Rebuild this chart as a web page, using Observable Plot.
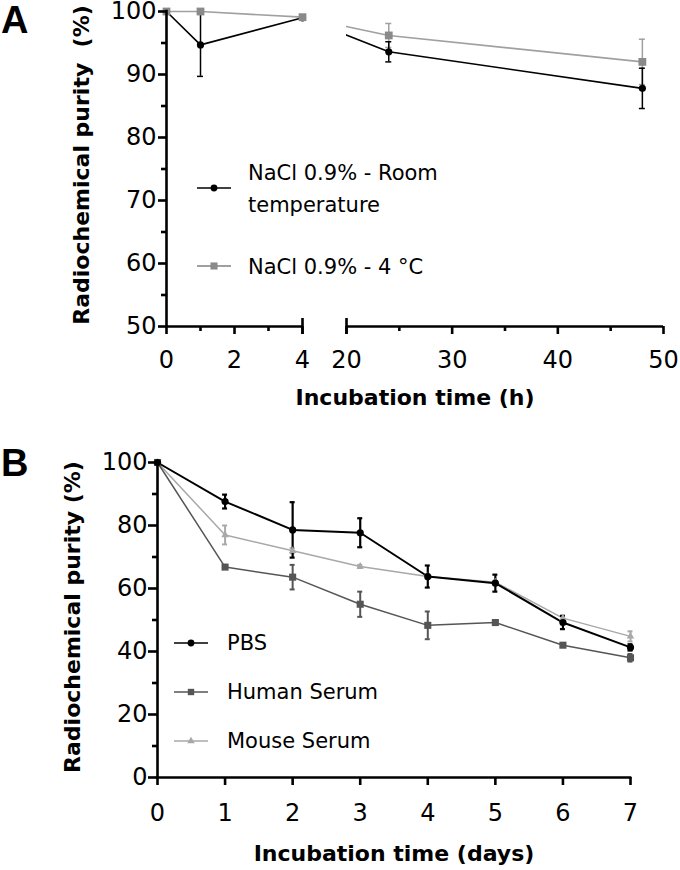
<!DOCTYPE html>
<html>
<head>
<meta charset="utf-8">
<script src="https://cdn.jsdelivr.net/npm/d3@7"></script>
<script src="https://cdn.jsdelivr.net/npm/@observablehq/plot@0.6"></script>
<style>
  body { margin: 0; background: #fff; }
  #wrap { position: relative; width: 680px; height: 870px; font-family: "DejaVu Sans", sans-serif; color: #000; overflow: hidden; }
  .panel { position: absolute; left: 0; }
  .plabel { position: absolute; left: 1px; font-family: "Liberation Sans", Arial, sans-serif; font-weight: bold; font-size: 38px; line-height: 38px; }
  .leg { position: absolute; font-size: 21px; line-height: 32px; white-space: nowrap; }
  .swatch { position: absolute; }
</style>
</head>
<body>
<div id="wrap"></div>
<script>
// ---------- Panel A data ----------
const timeA = [0, 1, 4, 24, 48];
const roomMean = [100, 94.7, 99.0, 93.6, 87.8];
const roomSd = [0, 5.0, 0.3, 1.6, 3.2];
const coldMean = [100, 100, 99.1, 96.2, 92.0];
const coldSd = [0, 0, 0.3, 1.9, 3.6];
const xDomainA = [0, 4, 20, 50];          // broken axis: 0–4 h, gap, 20–50 h
const xBreakA = [4, 20];
const xSegmentsA = [[0, 4], [20, 50]];
const xTicksA = [0, 2, 4, 20, 30, 40, 50];
const xMinorA = [1, 3, 25, 35, 45];
const yDomainA = [50, 100];
const yTicksA = [50, 60, 70, 80, 90, 100];
const yMinorA = [55, 65, 75, 85, 95];
const seriesA = ["NaCl 0.9% - Room\ntemperature", "NaCl 0.9% - 4 °C"];

// relative widths of the broken-axis pieces (left segment, gap, right segment)
const brokenAxisShares = [136, 44, 317];

// ---------- Panel B data ----------
const days = [0, 1, 2, 3, 4, 5, 6, 7];
const pbsMean = [100, 87.6, 78.6, 77.7, 63.8, 61.7, 49.2, 41.3];
const pbsSd = [0, 2.2, 8.8, 4.6, 3.5, 2.7, 2.1, 1.0];
const humanMean = [100, 66.8, 63.6, 55.0, 48.3, 49.2, 42.0, 38.0];
const humanSd = [0, 0.6, 3.9, 4.0, 4.4, 0.8, 0.5, 1.2];
const mouseMean = [100, 77.0, 72.0, 67.0, 63.8, 62.0, 50.6, 44.8];
const mouseSd = [0, 3.0, 0.8, 0.5, 0.8, 0.5, 0.8, 1.6];
const xTicksB = [0, 1, 2, 3, 4, 5, 6, 7];
const yDomainB = [0, 100];
const yTicksB = [0, 20, 40, 60, 80, 100];
const yMinorB = [10, 30, 50, 70, 90];
const seriesB = ["PBS", "Human Serum", "Mouse Serum"];

const yTitleA = "Radiochemical purity\u00a0 (%)";
const yTitleB = "Radiochemical purity (%)";
const xTitleA = "Incubation time (h)";
const xTitleB = "Incubation time (days)";

const rows = (t, m, s) => t.map((x, i) => ({t: x, v: m[i], lo: m[i] - s[i], hi: m[i] + s[i], sd: s[i]}));
const withErr = d => d.filter(r => r.sd > 0);

const AX = 2.6; // axis stroke

function errorMarks(data, color, w, cap) {
  const e = withErr(data);
  return [
    Plot.ruleX(e, {x: "t", y1: "lo", y2: "hi", stroke: color, strokeWidth: w}),
    Plot.ruleY(e, {x1: "t", x2: "t", y: "lo", insetLeft: -cap, insetRight: -cap, stroke: color, strokeWidth: w}),
    Plot.ruleY(e, {x1: "t", x2: "t", y: "hi", insetLeft: -cap, insetRight: -cap, stroke: color, strokeWidth: w})
  ];
}

const wrap = document.getElementById("wrap");

// ---------- Panel A ----------
const room = rows(timeA, roomMean, roomSd);
const cold = rows(timeA, coldMean, coldSd);
const colA = {room: "#000000", coldLine: "#a0a0a0", coldDot: "#8a8a8a"};

const cum = [0];
brokenAxisShares.forEach(w => cum.push(cum[cum.length - 1] + w));
const brokenX = d3.scaleLinear().domain(xDomainA).range(cum);
// axis ticks live in the scale's (transformed) space; labels show hours
const tickPos = ts => ts.map(brokenX);
const tickLabel = d => String(Math.round(brokenX.invert(d)));

const plotA = Plot.plot({
  width: 680, height: 420,
  marginLeft: 166, marginRight: 17, marginTop: 11, marginBottom: 94,
  style: {fontFamily: "DejaVu Sans, sans-serif", fontSize: "24px", background: "white", color: "#000", overflow: "visible"},
  x: {type: "linear", transform: brokenX, nice: false},
  y: {domain: yDomainA},
  marks: [
    Plot.line(cold, {x: "t", y: "v", stroke: colA.coldLine, strokeWidth: 1.6}),
    Plot.line(room, {x: "t", y: "v", stroke: colA.room, strokeWidth: 1.6}),
    Plot.rect([xBreakA], {x1: d => d[0], x2: d => d[1], y1: yDomainA[0], y2: yDomainA[1], fill: "white", insetTop: -8, insetBottom: 2}),
    ...errorMarks(cold, colA.coldLine, 1.5, 3),
    ...errorMarks(room, colA.room, 1.5, 3),
    Plot.dot(room, {x: "t", y: "v", r: 3.6, fill: colA.room, symbol: "circle"}),
    Plot.dot(cold, {x: "t", y: "v", r: 4.4, fill: colA.coldDot, symbol: "square"}),
    // axes
    Plot.ruleX([xDomainA[0]], {y1: yDomainA[0], y2: yDomainA[1], stroke: "#000", strokeWidth: AX, strokeLinecap: "square"}),
    Plot.ruleY(xSegmentsA, {x1: d => d[0], x2: d => d[1], y: yDomainA[0], stroke: "#000", strokeWidth: AX}),
    Plot.axisY({ticks: yTicksA, tickSize: 8, tickPadding: 2, strokeWidth: AX, label: null, fontSize: 24, tickFormat: d => String(d)}),
    Plot.axisY({ticks: yMinorA, tickSize: 5, strokeWidth: AX, label: null, text: null}),
    Plot.axisX({ticks: tickPos(xTicksA), tickSize: 8, tickPadding: 16, strokeWidth: AX, label: null, fontSize: 24, tickFormat: tickLabel}),
    Plot.axisX({ticks: tickPos(xMinorA), tickSize: 5, strokeWidth: AX, label: null, text: null}),
    Plot.axisX({ticks: tickPos(xBreakA), tickSize: 16, dy: -8, strokeWidth: AX, label: null, text: null}),
    Plot.text([yTitleA], {frameAnchor: "left", textAnchor: "middle", rotate: -90, dx: -85, dy: -4, fontWeight: "bold", fontSize: 22}),
    Plot.text([xTitleA], {frameAnchor: "bottom", textAnchor: "middle", dy: 78, fontWeight: "bold", fontSize: 22})
  ]
});
plotA.classList.add("panel");
plotA.style.top = "0px";
wrap.appendChild(plotA);

// ---------- Panel B ----------
const pbs = rows(days, pbsMean, pbsSd);
const human = rows(days, humanMean, humanSd);
const mouse = rows(days, mouseMean, mouseSd);
const colB = {pbs: "#000000", human: "#555555", mouse: "#a8a8a8"};

const plotB = Plot.plot({
  width: 680, height: 440,
  marginLeft: 157, marginRight: 50, marginTop: 32, marginBottom: 93,
  style: {fontFamily: "DejaVu Sans, sans-serif", fontSize: "24px", background: "white", color: "#000", overflow: "visible"},
  x: {domain: [days[0], days[days.length - 1]]},
  y: {domain: yDomainB},
  marks: [
    Plot.line(mouse, {x: "t", y: "v", stroke: colB.mouse, strokeWidth: 1.5}),
    Plot.line(human, {x: "t", y: "v", stroke: colB.human, strokeWidth: 1.5}),
    Plot.line(pbs, {x: "t", y: "v", stroke: colB.pbs, strokeWidth: 2}),
    ...errorMarks(mouse, colB.mouse, 2, 2.5),
    ...errorMarks(human, colB.human, 2, 2.5),
    ...errorMarks(pbs, colB.pbs, 2.2, 2.5),
    Plot.dot(mouse, {x: "t", y: "v", r: 2.8, fill: colB.mouse, symbol: "triangle"}),
    Plot.dot(human, {x: "t", y: "v", r: 4, fill: colB.human, symbol: "square"}),
    Plot.dot(pbs, {x: "t", y: "v", r: 3.6, fill: colB.pbs, symbol: "circle"}),
    // axes
    Plot.ruleX([days[0]], {y1: yDomainB[0], y2: yDomainB[1], stroke: "#000", strokeWidth: AX, strokeLinecap: "square"}),
    Plot.ruleY([yDomainB[0]], {stroke: "#000", strokeWidth: AX, strokeLinecap: "square"}),
    Plot.axisY({ticks: yTicksB, tickSize: 9, tickPadding: 1, strokeWidth: AX, label: null, fontSize: 24, tickFormat: d => String(d)}),
    Plot.axisY({ticks: yMinorB, tickSize: 5, strokeWidth: AX, label: null, text: null}),
    Plot.axisX({ticks: xTicksB, tickSize: 8, tickPadding: 18, strokeWidth: AX, label: null, fontSize: 24, tickFormat: d => String(d)}),
    Plot.text([yTitleB], {frameAnchor: "left", textAnchor: "middle", rotate: -90, dx: -85, dy: -3, fontWeight: "bold", fontSize: 22}),
    Plot.text([xTitleB], {frameAnchor: "bottom", textAnchor: "middle", dy: 83, fontWeight: "bold", fontSize: 22})
  ]
});
plotB.classList.add("panel");
plotB.style.top = "430px";
wrap.appendChild(plotB);

// ---------- Panel letters ----------
function addDiv(cls, txt, top, left) {
  const d = document.createElement("div");
  d.className = cls; d.textContent = txt; d.style.top = top + "px";
  if (left != null) d.style.left = left + "px";
  wrap.appendChild(d); return d;
}
addDiv("plabel", "A", 1);
addDiv("plabel", "B", 444);

// ---------- Legends ----------
function symbolPath(sym, r) {
  const t = {circle: d3.symbolCircle, square: d3.symbolSquare, triangle: d3.symbolTriangle}[sym];
  return d3.symbol(t, Math.PI * r * r)();
}
function swatch(left, cy, lineColor, dotColor, sym, r, lw) {
  const ns = "http://www.w3.org/2000/svg";
  const s = document.createElementNS(ns, "svg");
  s.setAttribute("width", 34); s.setAttribute("height", 14);
  s.setAttribute("class", "swatch");
  s.style.left = left + "px"; s.style.top = (cy - 7) + "px";
  const l = document.createElementNS(ns, "line");
  l.setAttribute("x1", 0); l.setAttribute("x2", 34); l.setAttribute("y1", 7); l.setAttribute("y2", 7);
  l.setAttribute("stroke", lineColor); l.setAttribute("stroke-width", lw);
  s.appendChild(l);
  const p = document.createElementNS(ns, "path");
  p.setAttribute("d", symbolPath(sym, r)); p.setAttribute("transform", "translate(17,7)");
  p.setAttribute("fill", dotColor);
  s.appendChild(p);
  wrap.appendChild(s);
}
// Panel A legend
swatch(197, 188, colA.room, colA.room, "circle", 3.4, 1.6);
const la1 = addDiv("leg", "", 157, 248);
seriesA[0].split("\n").forEach((t, i) => { if (i) la1.appendChild(document.createElement("br")); la1.appendChild(document.createTextNode(t)); });
swatch(197, 266, colA.coldLine, colA.coldDot, "square", 4, 2);
addDiv("leg", seriesA[1], 251, 248);

// Panel B legend
const legB = [[colB.pbs, colB.pbs, "circle", 3.4, 1.6], [colB.human, colB.human, "square", 3.6, 1.6], [colB.mouse, colB.mouse, "triangle", 2.8, 1.6]];
const legBy = [643, 692, 741];
seriesB.forEach((name, i) => {
  const [lc, dc, sym, r, lw] = legB[i];
  swatch(174, legBy[i], lc, dc, sym, r, lw);
  addDiv("leg", name, legBy[i] - 16, 227);
});
</script>
</body>
</html>
